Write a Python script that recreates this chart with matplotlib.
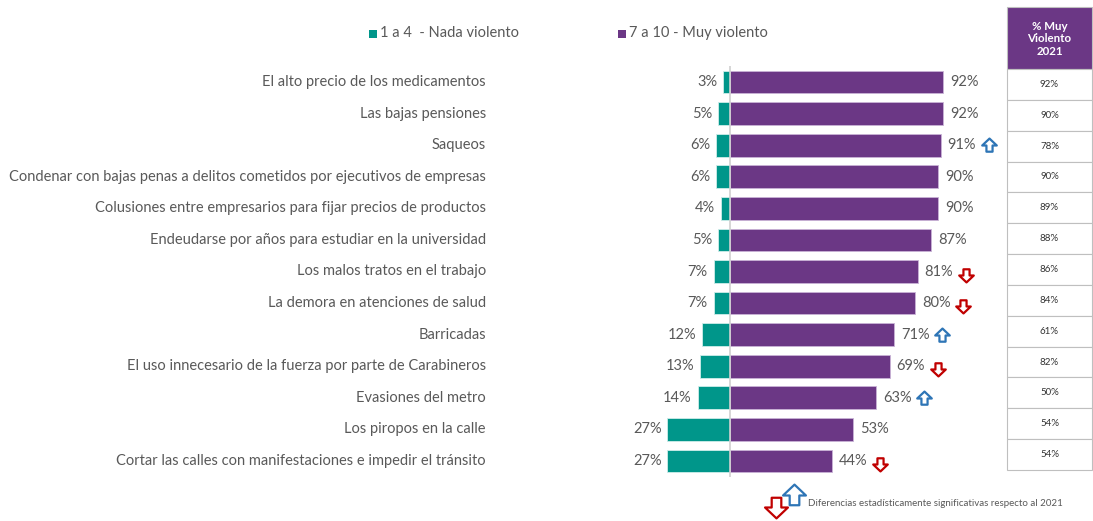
import matplotlib
matplotlib.use("Agg")
import matplotlib.pyplot as plt
from matplotlib.path import Path
from matplotlib.patches import Rectangle
import matplotlib.transforms as mtransforms

plt.rcParams['font.family'] = ['Lato', 'DejaVu Sans']

categories = [
    "El alto precio de los medicamentos",
    "Las bajas pensiones",
    "Saqueos",
    "Condenar con bajas penas a delitos cometidos por ejecutivos de empresas",
    "Colusiones entre empresarios para fijar precios de productos",
    "Endeudarse por años para estudiar en la universidad",
    "Los malos tratos en el trabajo",
    "La demora en atenciones de salud",
    "Barricadas",
    "El uso innecesario de la fuerza por parte de Carabineros",
    "Evasiones del metro",
    "Los piropos en la calle",
    "Cortar las calles con manifestaciones e impedir el tránsito",
]
nada_violento = [3, 5, 6, 6, 4, 5, 7, 7, 12, 13, 14, 27, 27]
muy_violento = [92, 92, 91, 90, 90, 87, 81, 80, 71, 69, 63, 53, 44]
# +1 significant increase, -1 significant decrease, 0 none
significance = [0, 0, 1, 0, 0, 0, -1, -1, 1, -1, 1, 0, -1]
muy_violento_2021 = [92, 90, 78, 90, 89, 88, 86, 84, 61, 82, 50, 54, 54]

legend_labels = ["1 a 4  - Nada violento", "7 a 10 - Muy violento"]
table_header = "% Muy\nViolento\n2021"
footnote = "Diferencias estadísticamente significativas respecto al 2021"

GREEN = "#00968A"
PURPLE = "#6B3785"
BLUE = "#2E75B6"
RED = "#C00000"
TXT = "#595959"

W, H = 1093, 521
fig = plt.figure(figsize=(W / 100, H / 100), dpi=100)

px_per_pct = 2.315
center_px = 730
ax_right_px = 1000
top_px, bot_px = 66.2, 476.8
ax = fig.add_axes([0, (H - bot_px) / H, ax_right_px / W, (bot_px - top_px) / H])
ax.set_xlim(-center_px / px_per_pct, (ax_right_px - center_px) / px_per_pct)
n = len(categories)
ax.set_ylim(n - 0.5, -0.5)
ax.axis("off")

ys = list(range(n))
ax.barh(ys, [-v for v in nada_violento], height=0.72, color=GREEN,
        edgecolor="#CFEDEA", linewidth=0.6, zorder=2)
ax.barh(ys, muy_violento, height=0.72, color=PURPLE,
        edgecolor="#C9B3D6", linewidth=0.6, zorder=2)
ax.plot([0, 0], [-0.55, n - 0.45], color="#D0D0D0", lw=1.2, zorder=3)

cat_x = -(center_px - 486) / px_per_pct
for i, (c, g, p, s) in enumerate(zip(categories, nada_violento, muy_violento, significance)):
    ax.text(cat_x, i, c, ha="right", va="center", fontsize=10.5, color=TXT)
    ax.annotate(f"{g}%", (-g, i), xytext=(-6, 0), textcoords="offset pixels",
                ha="right", va="center", fontsize=10.5, color=TXT)
    ax.annotate(f"{p}%", (p, i), xytext=(7, 0), textcoords="offset pixels",
                ha="left", va="center", fontsize=10.5, color=TXT)

up_arrow = Path([(0, 0.95), (1, 0.0), (0.42, 0.0), (0.42, -0.85), (-0.42, -0.85),
                 (-0.42, 0.0), (-1, 0.0), (0, 0.95)],
                [Path.MOVETO] + [Path.LINETO] * 6 + [Path.CLOSEPOLY])
down_arrow = Path([(x, -y) for x, y in up_arrow.vertices], up_arrow.codes)

for i, (p, s) in enumerate(zip(muy_violento, significance)):
    if s == 0:
        continue
    off = mtransforms.offset_copy(ax.transData, fig=fig, x=48, y=(0 if s > 0 else -3), units="dots")
    ax.plot([p], [i], marker=up_arrow if s > 0 else down_arrow, markersize=10.5,
            markerfacecolor="white", markeredgecolor=BLUE if s > 0 else RED,
            markeredgewidth=1.6, transform=off, clip_on=False, zorder=4)

def fx(px):
    return px / W

def fy(py):
    return 1 - py / H

# legend
for (lx, col, lab) in [(373, GREEN, legend_labels[0]), (622, PURPLE, legend_labels[1])]:
    fig.patches.append(Rectangle((fx(lx - 4), fy(38)), 8 / W, 8 / H, transform=fig.transFigure,
                                 facecolor=col, edgecolor="none"))
    fig.text(fx(lx + 7), fy(33), lab, ha="left", va="center", fontsize=10.5, color=TXT)

# table
t_left, t_right = 1007, 1092
h_top, h_bot = 7, 69
row_h = (470 - 69) / n
fig.patches.append(Rectangle((fx(t_left), fy(h_bot)), (t_right - t_left) / W, (h_bot - h_top) / H,
                             transform=fig.transFigure, facecolor=PURPLE, edgecolor="#BFBFBF", lw=0.8))
fig.text(fx((t_left + t_right) / 2), fy((h_top + h_bot) / 2 + 1), table_header, ha="center", va="center",
         fontsize=8.3, fontweight="bold", color="white", linespacing=1.2)
for i, v in enumerate(muy_violento_2021):
    r_top = h_bot + i * row_h
    fig.patches.append(Rectangle((fx(t_left), fy(r_top + row_h)), (t_right - t_left) / W, row_h / H,
                                 transform=fig.transFigure, facecolor="white", edgecolor="#BFBFBF", lw=0.8))
    fig.text(fx((t_left + t_right) / 2), fy(r_top + row_h / 2), f"{v}%", ha="center", va="center",
             fontsize=7, color="#333333")

# footnote
fn_ax = fig.add_axes([0, 0, 1, 1], facecolor="none")
fn_ax.set_xlim(0, W)
fn_ax.set_ylim(H, 0)
fn_ax.axis("off")
fn_ax.plot([794], [495], marker=up_arrow, markersize=16.5, markerfacecolor="white",
           markeredgecolor=BLUE, markeredgewidth=1.6, clip_on=False)
fn_ax.plot([776], [507], marker=down_arrow, markersize=16.5, markerfacecolor="white",
           markeredgecolor=RED, markeredgewidth=1.6, clip_on=False)
fn_ax.text(808, 504, footnote, ha="left", va="center", fontsize=7, color=TXT)

fig.savefig("out.png", dpi=100)
